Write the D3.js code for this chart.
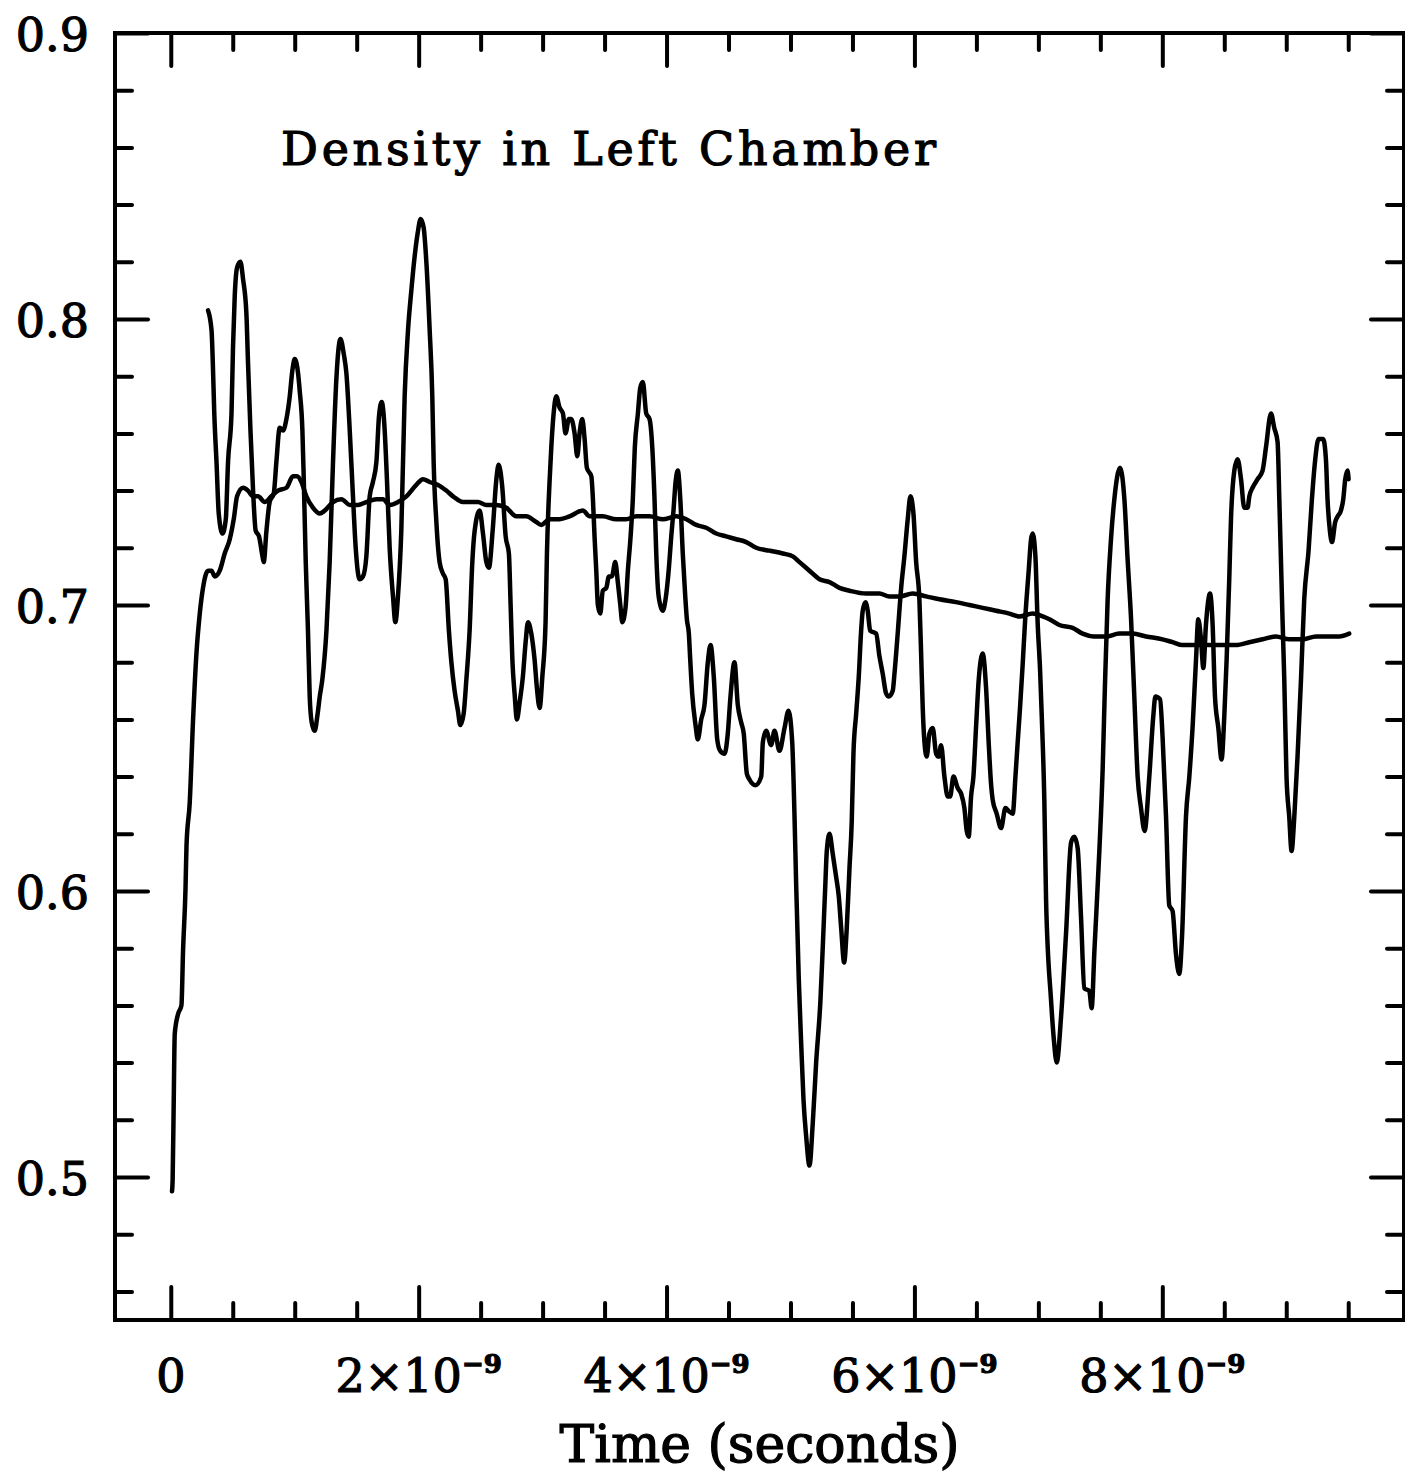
<!DOCTYPE html>
<html>
<head>
<meta charset="utf-8">
<script src="https://cdn.jsdelivr.net/npm/d3@7"></script>
<style>
  html, body { margin: 0; padding: 0; background: #fff; }
  svg { display: block; }
</style>
</head>
<body>
<div id="container"></div>
<script>
let width = 1405;
let height = 1475;

let fontFamily = "'DejaVu Serif', serif";

// 标题
const chartTitle = "Density in Left Chamber";
const xTitle = "Time (seconds)";

// 刻度 (x 以 1e-9 秒为单位)
const xLabelTicks = [0, 2, 4, 6, 8];
const xMinorStep = 0.5;
const yLabelTicks = [0.5, 0.6, 0.7, 0.8, 0.9];
const yMinorStep = 0.02;

// 瞬时密度 [time (ns), density]
const instantDensity = [
  [0.301,0.803],[0.329,0.796],[0.339,0.785],[0.351,0.767],[0.369,0.750],[0.387,0.732],[0.417,0.725],[0.444,0.730],[0.462,0.750],[0.490,0.767],
  [0.502,0.790],[0.516,0.808],[0.535,0.818],[0.562,0.820],[0.583,0.814],[0.610,0.802],[0.623,0.785],[0.643,0.761],[0.664,0.740],[0.685,0.726],
  [0.712,0.724],[0.740,0.717],[0.750,0.715],[0.772,0.726],[0.798,0.736],[0.831,0.739],[0.852,0.750],[0.879,0.762],[0.906,0.761],[0.933,0.765],
  [0.960,0.773],[0.981,0.782],[1.000,0.786],[1.027,0.781],[1.040,0.775],[1.062,0.761],[1.073,0.744],[1.089,0.715],[1.107,0.691],[1.121,0.668],
  [1.137,0.659],[1.161,0.656],[1.185,0.662],[1.202,0.668],[1.223,0.674],[1.256,0.691],[1.282,0.715],[1.309,0.750],[1.336,0.779],[1.369,0.793],
  [1.395,0.788],[1.417,0.781],[1.444,0.761],[1.470,0.738],[1.492,0.720],[1.524,0.709],[1.551,0.710],[1.578,0.717],[1.605,0.738],[1.631,0.743],
  [1.659,0.750],[1.680,0.766],[1.702,0.771],[1.726,0.761],[1.744,0.744],[1.766,0.720],[1.793,0.703],[1.812,0.694],[1.833,0.703],[1.860,0.726],
  [1.887,0.773],[1.914,0.796],[1.941,0.810],[1.968,0.822],[1.992,0.830],[2.016,0.835],[2.040,0.832],[2.062,0.820],[2.089,0.796],[2.110,0.773],
  [2.121,0.750],[2.143,0.729],[2.169,0.715],[2.196,0.711],[2.218,0.709],[2.244,0.691],[2.264,0.680],[2.290,0.670],[2.317,0.663],[2.336,0.658],
  [2.363,0.662],[2.385,0.674],[2.411,0.691],[2.433,0.715],[2.452,0.726],[2.492,0.733],[2.519,0.725],[2.546,0.715],[2.567,0.713],[2.597,0.726],
  [2.627,0.744],[2.645,0.749],[2.675,0.741],[2.702,0.724],[2.728,0.718],[2.742,0.700],[2.756,0.681],[2.774,0.669],[2.793,0.660],[2.815,0.666],
  [2.841,0.675],[2.863,0.687],[2.882,0.694],[2.909,0.690],[2.935,0.681],[2.954,0.671],[2.976,0.664],[2.998,0.675],[3.024,0.694],[3.035,0.718],
  [3.056,0.743],[3.070,0.755],[3.089,0.767],[3.110,0.773],[3.137,0.769],[3.164,0.767],[3.185,0.760],[3.212,0.765],[3.231,0.765],[3.258,0.760],
  [3.280,0.752],[3.298,0.760],[3.320,0.765],[3.339,0.758],[3.357,0.748],[3.393,0.745],[3.406,0.737],[3.419,0.724],[3.433,0.712],[3.446,0.700],
  [3.465,0.697],[3.486,0.705],[3.514,0.706],[3.535,0.710],[3.559,0.710],[3.586,0.715],[3.607,0.708],[3.627,0.700],[3.643,0.694],[3.669,0.699],
  [3.688,0.712],[3.710,0.724],[3.728,0.737],[3.744,0.755],[3.769,0.767],[3.788,0.776],[3.809,0.778],[3.836,0.767],[3.863,0.765],[3.885,0.755],
  [3.903,0.737],[3.917,0.718],[3.930,0.706],[3.949,0.700],[3.970,0.698],[3.992,0.702],[4.019,0.713],[4.038,0.724],[4.056,0.733],[4.073,0.743],
  [4.091,0.747],[4.111,0.737],[4.131,0.718],[4.151,0.703],[4.164,0.695],[4.180,0.690],[4.191,0.681],[4.207,0.669],[4.234,0.658],[4.252,0.653],
  [4.280,0.660],[4.306,0.665],[4.333,0.680],[4.355,0.686],[4.381,0.675],[4.409,0.653],[4.433,0.649],[4.468,0.648],[4.494,0.655],[4.516,0.668],
  [4.548,0.680],[4.575,0.665],[4.602,0.659],[4.623,0.655],[4.648,0.641],[4.669,0.639],[4.718,0.637],[4.764,0.640],[4.777,0.652],[4.804,0.656],
  [4.844,0.651],[4.871,0.656],[4.911,0.649],[4.952,0.657],[4.984,0.663],[5.014,0.652],[5.032,0.627],[5.046,0.602],[5.067,0.569],[5.086,0.547],
  [5.105,0.527],[5.127,0.514],[5.153,0.504],[5.180,0.519],[5.207,0.540],[5.242,0.562],[5.261,0.581],[5.280,0.601],[5.293,0.614],[5.315,0.620],
  [5.341,0.613],[5.368,0.605],[5.390,0.598],[5.409,0.587],[5.433,0.575],[5.454,0.587],[5.476,0.608],[5.494,0.624],[5.508,0.648],[5.530,0.662],
  [5.551,0.675],[5.570,0.691],[5.583,0.698],[5.605,0.701],[5.623,0.698],[5.643,0.691],[5.691,0.690],[5.718,0.682],[5.744,0.676],[5.772,0.669],
  [5.793,0.668],[5.825,0.670],[5.839,0.676],[5.865,0.690],[5.893,0.706],[5.919,0.717],[5.946,0.730],[5.968,0.738],[5.992,0.732],[6.014,0.715],
  [6.040,0.702],[6.054,0.683],[6.067,0.664],[6.081,0.652],[6.099,0.647],[6.121,0.655],[6.148,0.657],[6.175,0.648],[6.196,0.647],[6.215,0.651],
  [6.242,0.640],[6.269,0.633],[6.288,0.633],[6.315,0.640],[6.349,0.636],[6.377,0.634],[6.403,0.629],[6.422,0.621],[6.438,0.619],[6.457,0.633],
  [6.476,0.640],[6.498,0.658],[6.519,0.674],[6.551,0.683],[6.578,0.671],[6.599,0.652],[6.619,0.637],[6.631,0.632],[6.664,0.627],[6.699,0.622],
  [6.734,0.629],[6.760,0.628],[6.793,0.627],[6.815,0.640],[6.833,0.652],[6.852,0.664],[6.873,0.679],[6.895,0.696],[6.922,0.712],[6.941,0.723],
  [6.954,0.725],[6.976,0.717],[6.994,0.694],[7.014,0.677],[7.030,0.658],[7.048,0.632],[7.062,0.597],[7.102,0.562],[7.125,0.548],[7.148,0.540],
  [7.183,0.556],[7.223,0.585],[7.264,0.617],[7.290,0.619],[7.317,0.615],[7.344,0.591],[7.371,0.566],[7.411,0.565],[7.430,0.559],[7.452,0.579],
  [7.492,0.614],[7.519,0.643],[7.536,0.670],[7.559,0.702],[7.586,0.723],[7.613,0.737],[7.659,0.748],[7.694,0.737],[7.720,0.716],[7.748,0.695],
  [7.774,0.668],[7.801,0.640],[7.828,0.629],[7.857,0.621],[7.895,0.640],[7.927,0.661],[7.944,0.668],[7.982,0.667],[8.002,0.654],[8.030,0.626],
  [8.056,0.595],[8.083,0.593],[8.110,0.578],[8.137,0.571],[8.159,0.584],[8.191,0.626],[8.218,0.640],[8.244,0.657],[8.272,0.681],[8.290,0.695],
  [8.312,0.688],[8.331,0.678],[8.352,0.693],[8.385,0.704],[8.406,0.693],[8.425,0.668],[8.452,0.657],[8.478,0.646],[8.500,0.661],[8.519,0.681],
  [8.540,0.709],[8.554,0.730],[8.581,0.747],[8.607,0.751],[8.635,0.744],[8.661,0.734],[8.688,0.734],[8.702,0.738],[8.728,0.741],[8.769,0.744],
  [8.809,0.747],[8.836,0.755],[8.877,0.767],[8.903,0.762],[8.930,0.757],[8.944,0.737],[8.957,0.716],[8.970,0.695],[8.984,0.674],[9.002,0.640],
  [9.024,0.626],[9.043,0.614],[9.065,0.626],[9.091,0.647],[9.119,0.674],[9.145,0.702],[9.180,0.719],[9.207,0.737],[9.234,0.751],[9.260,0.758],
  [9.298,0.758],[9.320,0.751],[9.333,0.737],[9.352,0.726],[9.369,0.722],[9.395,0.729],[9.415,0.731],[9.441,0.733],[9.460,0.737],[9.476,0.744],
  [9.494,0.747],[9.503,0.744]
];

// 平均密度 [time (ns), density]
const averageDensity = [
  [0.010,0.495],[0.015,0.499],[0.024,0.527],[0.032,0.550],[0.059,0.557],[0.086,0.560],[0.099,0.579],[0.119,0.601],[0.127,0.616],[0.153,0.631],
  [0.180,0.660],[0.207,0.683],[0.234,0.697],[0.260,0.706],[0.301,0.712],[0.328,0.712],[0.355,0.710],[0.395,0.712],[0.435,0.718],[0.476,0.723],
  [0.508,0.730],[0.535,0.738],[0.583,0.741],[0.623,0.740],[0.664,0.738],[0.704,0.738],[0.758,0.736],[0.812,0.738],[0.865,0.740],[0.933,0.741],
  [0.986,0.745],[1.019,0.745],[1.054,0.743],[1.094,0.738],[1.148,0.734],[1.202,0.732],[1.242,0.733],[1.309,0.736],[1.377,0.737],[1.444,0.735],
  [1.510,0.735],[1.578,0.736],[1.659,0.737],[1.712,0.737],[1.766,0.735],[1.833,0.736],[1.901,0.738],[1.981,0.742],[2.035,0.744],[2.089,0.743],
  [2.156,0.742],[2.223,0.740],[2.277,0.738],[2.357,0.736],[2.411,0.736],[2.478,0.736],[2.546,0.735],[2.627,0.735],[2.707,0.734],[2.788,0.731],
  [2.869,0.731],[2.949,0.729],[2.990,0.728],[3.056,0.730],[3.137,0.730],[3.218,0.731],[3.325,0.733],[3.379,0.731],[3.486,0.731],[3.594,0.730],
  [3.675,0.730],[3.756,0.731],[3.863,0.731],[3.970,0.730],[4.078,0.731],[4.159,0.730],[4.240,0.728],[4.320,0.727],[4.401,0.725],[4.481,0.724],
  [4.562,0.723],[4.643,0.722],[4.723,0.720],[4.831,0.719],[4.938,0.718],[5.019,0.717],[5.073,0.715],[5.153,0.712],[5.234,0.709],[5.315,0.708],
  [5.395,0.706],[5.476,0.705],[5.610,0.704],[5.718,0.704],[5.798,0.703],[5.879,0.703],[5.986,0.704],[6.094,0.703],[6.202,0.702],[6.336,0.701],
  [6.444,0.700],[6.551,0.699],[6.659,0.698],[6.766,0.697],[6.847,0.696],[6.954,0.697],[7.035,0.696],[7.089,0.695],[7.169,0.693],[7.277,0.692],
  [7.357,0.690],[7.452,0.689],[7.546,0.689],[7.653,0.690],[7.761,0.690],[7.869,0.689],[8.002,0.688],[8.083,0.687],[8.163,0.686],[8.272,0.686],
  [8.379,0.686],[8.486,0.686],[8.594,0.686],[8.702,0.687],[8.809,0.688],[8.917,0.689],[9.024,0.688],[9.131,0.688],[9.240,0.689],[9.347,0.689],
  [9.427,0.689],[9.508,0.690]
];

function drawChart() {
  let svg = d3
    .select("#container")
    .append("svg")
    .attr("width", width)
    .attr("height", height)
    .style("font-family", fontFamily);

  // 比例尺
  let x = d3.scaleLinear().domain([-0.45e-9, 9.95e-9]).range([115, 1404]);
  let y = d3.scaleLinear().domain([0.45, 0.9]).range([1320, 33]);

  let xMajor = xLabelTicks.map((d) => d * 1e-9);
  let xMinor = d3.range(0, 9.5 + 1e-6, xMinorStep)
    .filter((d) => xLabelTicks.indexOf(d) < 0)
    .map((d) => d * 1e-9);
  let yMinor = d3.range(0.46, 0.9, yMinorStep)
    .filter((d) => !yLabelTicks.some((t) => Math.abs(t - d) < 1e-6));

  // 刻度线，四边都朝内
  function ticks(axisFn, scale, values, size, transform) {
    svg.append("g")
      .attr("transform", transform)
      .call(axisFn(scale).tickValues(values).tickSize(size).tickFormat(""))
      .call((g) => g.select(".domain").remove())
      .call((g) => g.selectAll(".tick line")
        .attr("stroke", "#000")
        .attr("stroke-width", 4)
        .attr("stroke-linecap", "round"));
  }
  let [x0, x1] = x.range();
  let [y0, y1] = y.range();
  ticks(d3.axisBottom, x, xMajor, -33, `translate(0,${y0})`);
  ticks(d3.axisBottom, x, xMinor, -17, `translate(0,${y0})`);
  ticks(d3.axisTop, x, xMajor, -33, `translate(0,${y1})`);
  ticks(d3.axisTop, x, xMinor, -17, `translate(0,${y1})`);
  ticks(d3.axisLeft, y, yLabelTicks, -33, `translate(${x0},0)`);
  ticks(d3.axisLeft, y, yMinor, -17, `translate(${x0},0)`);
  ticks(d3.axisRight, y, yLabelTicks, -33, `translate(${x1},0)`);
  ticks(d3.axisRight, y, yMinor, -17, `translate(${x1},0)`);

  // 边框
  svg.append("rect")
    .attr("x", x0)
    .attr("y", y1)
    .attr("width", x1 - x0)
    .attr("height", y0 - y1)
    .attr("fill", "none")
    .attr("stroke", "#000")
    .attr("stroke-width", 4);

  // y 轴文字
  svg.append("g")
    .attr("transform", `translate(${x0},0)`)
    .call(d3.axisLeft(y).tickValues(yLabelTicks).tickSize(0).tickPadding(26).tickFormat(d3.format(".1f")))
    .call((g) => g.select(".domain").remove())
    .call((g) => g.selectAll("text")
      .attr("font-family", fontFamily)
      .attr("font-size", 46)
      .attr("fill", "#000")
      .attr("stroke", "#000")
      .attr("stroke-width", 1.2)
      .attr("dy", "0.37em"));

  // x 轴文字，带上标
  svg.append("g")
    .attr("stroke", "#000")
    .attr("stroke-width", 1.2)
    .selectAll("text")
    .data(xLabelTicks)
    .join("text")
    .attr("x", (d) => x(d * 1e-9))
    .attr("y", 1392)
    .attr("text-anchor", "middle")
    .attr("font-size", 46)
    .each(function (d) {
      let t = d3.select(this);
      if (d === 0) {
        t.text("0");
        return;
      }
      t.append("tspan").text(`${d}×10`);
      t.append("tspan")
        .attr("dy", -19)
        .attr("font-size", 26)
        .attr("font-weight", "bold")
        .text("−9");
    });

  // 曲线
  let line = d3.line()
    .x((d) => x(d[0] * 1e-9))
    .y((d) => y(d[1]))
    .curve(d3.curveMonotoneX);

  [averageDensity, instantDensity].forEach(function (series) {
    svg.append("path")
      .datum(series)
      .attr("fill", "none")
      .attr("stroke", "#000")
      .attr("stroke-width", 4.5)
      .attr("stroke-linejoin", "round")
      .attr("stroke-linecap", "round")
      .attr("d", line);
  });

  // 标题
  svg.append("text")
    .attr("x", 281)
    .attr("y", 165)
    .attr("font-size", 46)
    .attr("stroke", "#000")
    .attr("stroke-width", 1.2)
    .attr("textLength", 655)
    .attr("lengthAdjust", "spacing")
    .text(chartTitle);

  svg.append("text")
    .attr("x", (x0 + x1) / 2)
    .attr("y", 1462)
    .attr("text-anchor", "middle")
    .attr("font-size", 52)
    .attr("stroke", "#000")
    .attr("stroke-width", 1.2)
    .text(xTitle);
}

drawChart();
</script>
</body>
</html>
